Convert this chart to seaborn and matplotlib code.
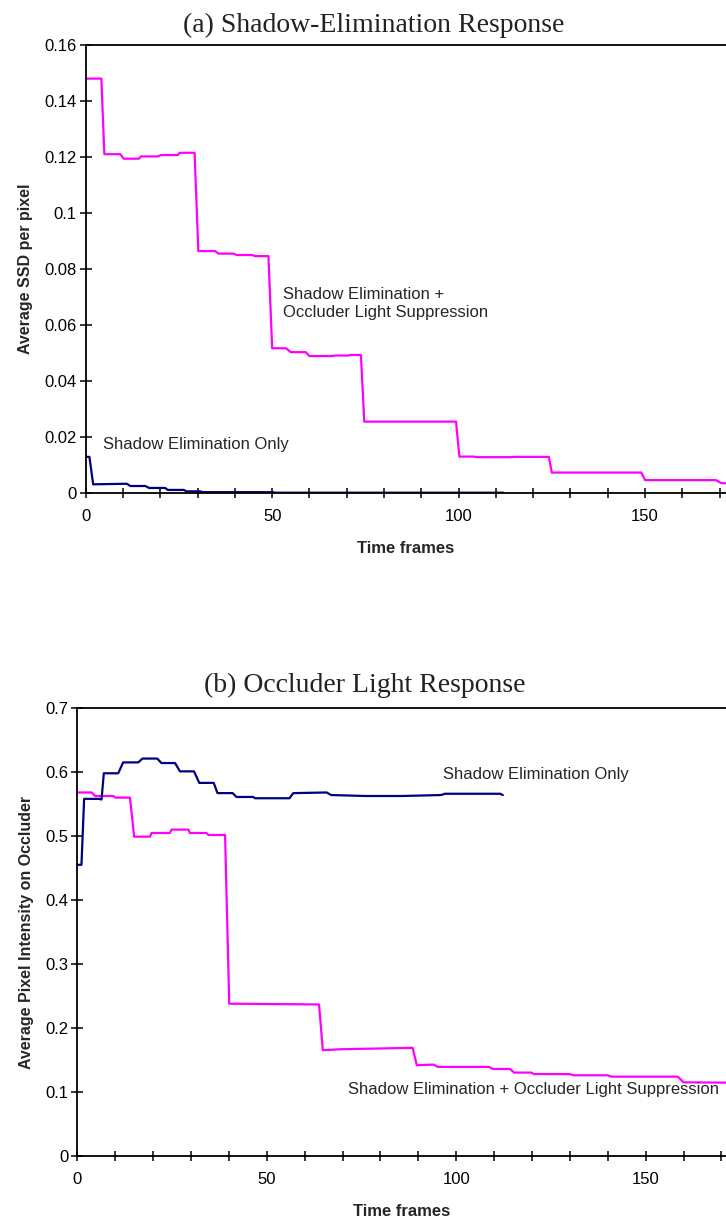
import matplotlib
matplotlib.use("Agg")
import matplotlib.pyplot as plt
import seaborn as sns
import pandas as pd
from matplotlib.ticker import MultipleLocator

# ---------------- data ----------------
# (a) Shadow-Elimination Response
a_pink_x = [0, 4.2, 5, 9.3, 10.2, 14.3, 14.8, 19.3, 20.2, 24.7,
            25.2, 29.2, 30.2, 34.7, 35.6, 39.6, 40.5, 44.6, 45.5, 49,
            50, 53.7, 55, 59, 60, 66, 67, 70.5, 71, 73.8,
            74.7, 99.3, 100.2, 104, 105, 114, 115, 124.2, 125, 149,
            150, 169, 170.5, 172]
a_pink_y = [0.148, 0.148, 0.121, 0.121, 0.1194, 0.1194, 0.1202, 0.1202, 0.1207, 0.1207,
            0.1215, 0.1215, 0.0864, 0.0864, 0.0855, 0.0855, 0.085, 0.085, 0.0846, 0.0846,
            0.0517, 0.0517, 0.0503, 0.0503, 0.0489, 0.0489, 0.0491, 0.0491, 0.0493, 0.0493,
            0.0255, 0.0255, 0.013, 0.013, 0.0128, 0.0128, 0.0129, 0.0129, 0.0073, 0.0073,
            0.0046, 0.0046, 0.0035, 0.0035]
a_blue_x = [0, 1, 2, 11, 12, 16, 17, 21.3, 22, 26.3, 27, 30.6, 31.5, 50, 51, 112]
a_blue_y = [0.0129, 0.0129, 0.0031, 0.0033, 0.0025, 0.0025, 0.0018, 0.0018,
            0.0011, 0.0011, 0.0006, 0.0006, 0.0003, 0.0003, 0.0001, 0.0001]

# (b) Occluder Light Response
b_blue_x = [0, 1.1, 1.8, 5.8, 6.4, 7, 10.8, 12.1, 16.1, 17.2,
            21.1, 22.2, 25.8, 27.1, 30.8, 32.2, 36, 37, 41, 42,
            46.4, 46.9, 56, 57, 65.8, 67, 76, 85.5, 96, 97,
            111.6, 112.3]
b_blue_y = [0.455, 0.455, 0.558, 0.558, 0.557, 0.598, 0.598, 0.615, 0.615, 0.621,
            0.621, 0.614, 0.614, 0.601, 0.601, 0.583, 0.583, 0.567, 0.567, 0.561,
            0.561, 0.559, 0.559, 0.567, 0.568, 0.564, 0.5625, 0.5625, 0.564, 0.566,
            0.566, 0.564]
b_pink_x = [0, 3.8, 4.7, 6, 9.5, 10, 13.9, 15, 19.2, 19.6,
            24.4, 24.9, 29.3, 29.7, 34.1, 34.6, 39, 40.1, 63.8, 64.8,
            69.4, 88.5, 89.6, 94, 95.2, 108.6, 109.7, 114.2, 115.3, 119.8,
            120.5, 130, 131, 140, 141, 158.5, 160, 172]
b_pink_y = [0.568, 0.568, 0.5625, 0.5625, 0.5625, 0.560, 0.560, 0.499, 0.499, 0.5047,
            0.5047, 0.510, 0.510, 0.5047, 0.5047, 0.5016, 0.5016, 0.238, 0.2368, 0.1653,
            0.1668, 0.169, 0.1418, 0.1428, 0.1392, 0.1392, 0.136, 0.136, 0.1303, 0.1303,
            0.128, 0.128, 0.1261, 0.1261, 0.124, 0.124, 0.1151, 0.1146]

a_yticks = [0, 0.02, 0.04, 0.06, 0.08, 0.1, 0.12, 0.14, 0.16]
a_yticklabels = ["0", "0.02", "0.04", "0.06", "0.08", "0.1", "0.12", "0.14", "0.16"]
b_yticks = [0, 0.1, 0.2, 0.3, 0.4, 0.5, 0.6, 0.7]
b_yticklabels = ["0", "0.1", "0.2", "0.3", "0.4", "0.5", "0.6", "0.7"]
xticks = [0, 50, 100, 150]
xticklabels = ["0", "50", "100", "150"]

titles = ["(a) Shadow-Elimination Response", "(b) Occluder Light Response"]
ylabels = ["Average SSD per pixel", "Average Pixel Intensity on Occluder"]
xlabel = "Time frames"
label_only = "Shadow Elimination Only"
label_both_a = "Shadow Elimination +\nOccluder Light Suppression"
label_both_b = "Shadow Elimination + Occluder Light Suppression"

PINK = "#FF00FF"
NAVY = "#000080"

# ---------------- style ----------------
sns.set_theme(style="ticks")
plt.rcParams["font.family"] = ["Liberation Sans", "DejaVu Sans"]
plt.rcParams["axes.linewidth"] = 1.3

fig = plt.figure(figsize=(7.26, 12.2), dpi=100)
W, H = 726, 1220
ax1 = fig.add_axes([85.7 / W, 1 - 493 / H, 1 - 85.7 / W, (493 - 45) / H])
ax2 = fig.add_axes([77.3 / W, 1 - 1156 / H, 1 - 77.3 / W, (1156 - 708) / H])


def style_axes(ax, xmax, ymax, yticks, yticklabels):
    ax.set_xlim(0, xmax)
    ax.set_ylim(0, ymax)
    ax.set_xticks(xticks)
    ax.set_xticklabels(xticklabels)
    ax.xaxis.set_minor_locator(MultipleLocator(10))
    ax.set_yticks(yticks)
    ax.set_yticklabels(yticklabels)
    for s in ["left", "bottom", "top"]:
        ax.spines[s].set_visible(True)
        ax.spines[s].set_color("black")
        ax.spines[s].set_linewidth(1.3)
    ax.spines["right"].set_visible(False)
    ax.tick_params(axis="x", which="both", direction="inout", length=7, width=1.1,
                   labelsize=12, pad=8, colors="black")
    ax.tick_params(axis="y", which="major", direction="inout", length=9, width=1.1,
                   labelsize=12, pad=2, colors="black")
    ax.grid(False)


# (a)
sns.lineplot(data=pd.DataFrame({"x": a_pink_x, "y": a_pink_y}), x="x", y="y",
             ax=ax1, color=PINK, lw=1.6, estimator=None, sort=False)
sns.lineplot(data=pd.DataFrame({"x": a_blue_x, "y": a_blue_y}), x="x", y="y",
             ax=ax1, color=NAVY, lw=1.6, estimator=None, sort=False)
style_axes(ax1, 171.7, 0.16, a_yticks, a_yticklabels)
ax1.set_xlabel(xlabel, fontsize=12, fontweight="bold", labelpad=12)
ax1.set_ylabel(ylabels[0], fontsize=11.5, fontweight="bold", labelpad=8)
ax1.text(4.7, 0.0174, label_only, fontsize=12, va="center", ha="left")
ax1.text(52.8, 0.0677, label_both_a, fontsize=12, va="center", ha="left", linespacing=1.3)

# (b)
sns.lineplot(data=pd.DataFrame({"x": b_pink_x, "y": b_pink_y}), x="x", y="y",
             ax=ax2, color=PINK, lw=1.6, estimator=None, sort=False)
sns.lineplot(data=pd.DataFrame({"x": b_blue_x, "y": b_blue_y}), x="x", y="y",
             ax=ax2, color=NAVY, lw=1.6, estimator=None, sort=False)
style_axes(ax2, 171.2, 0.7, b_yticks, b_yticklabels)
ax2.set_xlabel(xlabel, fontsize=12, fontweight="bold", labelpad=12)
ax2.set_ylabel(ylabels[1], fontsize=11.5, fontweight="bold", labelpad=8)
ax2.text(96.6, 0.596, label_only, fontsize=12, va="center", ha="left")
ax2.text(71.4, 0.104, label_both_b, fontsize=12, va="center", ha="left")

# titles
fig.text(374 / W, 1 - 32 / H, titles[0], fontsize=20, family="Liberation Serif",
         ha="center", va="baseline", color="#222222")
fig.text(525 / W, 1 - 691.7 / H, titles[1], fontsize=20, family="Liberation Serif",
         ha="right", va="baseline", color="#222222")

fig.savefig("out.png", dpi=100, facecolor="white")
